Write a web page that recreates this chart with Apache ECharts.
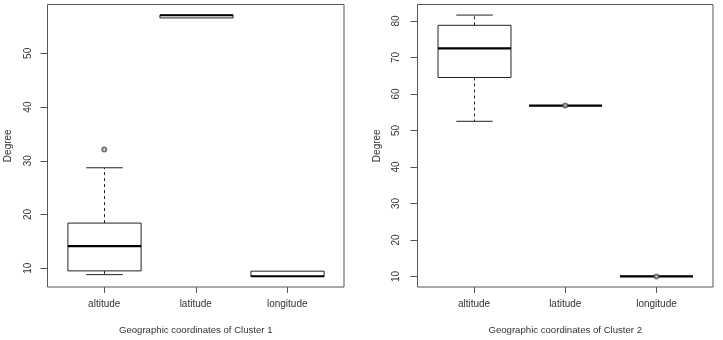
<!DOCTYPE html>
<html>
<head>
<meta charset="utf-8">
<script src="https://cdn.jsdelivr.net/npm/echarts@6/dist/echarts.min.js"></script>
<style>html,body{margin:0;padding:0;background:#fff}#c{width:723px;height:340px}</style>
</head>
<body>
<div id="c"></div>
<script>
// ---- data ----
const categories = ['altitude', 'latitude', 'longitude'];
// [min(whisker), Q1, median, Q3, max(whisker)]
const cluster1Altitude  = [8.8, 9.5, 14.1, 18.4, 28.7];
const cluster1Latitude  = [56.6, 56.6, 57.1, 57.1, 57.1];
const cluster1Longitude = [8.45, 8.45, 8.5, 9.45, 9.45];
const cluster1Outliers  = [['altitude', 32.1]];

const cluster2Altitude  = [52.5, 64.5, 72.5, 78.8, 81.6];
const cluster2Latitude  = [56.8, 56.8, 56.8, 56.8, 56.8];
const cluster2Longitude = [10.0, 10.0, 10.0, 10.0, 10.0];
const cluster2Outliers  = [['latitude', 56.8], ['longitude', 10.0]];

const yTicks1 = [10, 20, 30, 40, 50];
const yTicks2 = [10, 20, 30, 40, 50, 60, 70, 80];
const xTitle1 = 'Geographic coordinates of Cluster 1';
const xTitle2 = 'Geographic coordinates of Cluster 2';
const yTitle = 'Degree';

// ---- build ----
const catPos = categories.map((c, i) => i + 1);
function boxRows(stats) { return stats.map((s, i) => [catPos[i]].concat(s)); }
function outRows(list) { return list.map(o => [categories.indexOf(o[0]) + 1, o[1]]); }

const BOX_W = 0.8;
const LINE = '#222';
const TEXT = '#333';
const FRAME = '#555';
const FONT = 'Liberation Sans, Arial, sans-serif';

function renderItem(params, api) {
  const x = api.value(0);
  const lo = api.coord([x, api.value(1)]);
  const q1 = api.coord([x, api.value(2)]);
  const md = api.coord([x, api.value(3)]);
  const q3 = api.coord([x, api.value(4)]);
  const hi = api.coord([x, api.value(5)]);
  const w = api.size([BOX_W, 0])[0];
  const cx = Math.round(lo[0]) + 0.5;
  const l = cx - w / 2, r = cx + w / 2;
  const children = [];
  const dash = { stroke: LINE, lineWidth: 1, lineDash: [3, 3] };
  if (hi[1] < q3[1] - 0.5) {
    children.push({ type: 'line', shape: { x1: cx, y1: q3[1], x2: cx, y2: hi[1] }, style: dash });
    children.push({ type: 'line', shape: { x1: cx - w / 4, y1: hi[1], x2: cx + w / 4, y2: hi[1] }, style: { stroke: LINE, lineWidth: 1 } });
  }
  if (lo[1] > q1[1] + 0.5) {
    children.push({ type: 'line', shape: { x1: cx, y1: q1[1], x2: cx, y2: lo[1] }, style: dash });
    children.push({ type: 'line', shape: { x1: cx - w / 4, y1: lo[1], x2: cx + w / 4, y2: lo[1] }, style: { stroke: LINE, lineWidth: 1 } });
  }
  children.push({ type: 'rect', shape: { x: l, y: q3[1], width: w, height: q1[1] - q3[1] }, style: { fill: '#fff', stroke: LINE, lineWidth: 1 } });
  children.push({ type: 'line', shape: { x1: l, y1: md[1], x2: r, y2: md[1] }, style: { stroke: '#000', lineWidth: 2.2 } });
  return { type: 'group', children };
}

function xAxisFor(gi, title, nameGap) {
  return {
    type: 'value', gridIndex: gi, min: 0.38, max: 3.62,
    splitLine: { show: false },
    axisLine: { show: false },
    axisTick: { show: true, length: 6, customValues: catPos, lineStyle: { color: FRAME } },
    axisLabel: { customValues: catPos, margin: 12, fontSize: 10, color: TEXT, fontFamily: FONT,
      formatter: v => categories[Math.round(v) - 1] || '' },
    name: title, nameLocation: 'middle', nameGap: nameGap,
    nameTextStyle: { fontSize: 9.6, color: TEXT, fontFamily: FONT }
  };
}
function yAxisFor(gi, min, max, ticks, margin, nameGap) {
  return {
    type: 'value', gridIndex: gi, min: min, max: max,
    splitLine: { show: false },
    axisLine: { show: false },
    axisTick: { show: true, length: 7, customValues: ticks, lineStyle: { color: FRAME } },
    axisLabel: { customValues: ticks, rotate: 90, margin: margin, fontSize: 10, color: TEXT, fontFamily: FONT },
    name: yTitle, nameLocation: 'middle', nameGap: nameGap, nameRotate: 90,
    nameTextStyle: { fontSize: 10, color: TEXT, fontFamily: FONT }
  };
}

const option = {
  backgroundColor: '#fff',
  animation: false,
  grid: [
    { left: 47.5, top: 4.5, width: 296.5, height: 284, show: true, borderColor: FRAME, borderWidth: 1, backgroundColor: 'transparent' },
    { left: 417.5, top: 4.5, width: 295.5, height: 284, show: true, borderColor: FRAME, borderWidth: 1, backgroundColor: 'transparent' }
  ],
  xAxis: [xAxisFor(0, xTitle1, 38), xAxisFor(1, xTitle2, 38)],
  yAxis: [yAxisFor(0, 6.5, 59.1, yTicks1, 14, 34), yAxisFor(1, 7.1, 84.5, yTicks2, 16, 35)],
  series: [
    { type: 'custom', name: 'Cluster 1', xAxisIndex: 0, yAxisIndex: 0, renderItem,
      encode: { x: 0, y: [1, 2, 3, 4, 5] },
      data: boxRows([cluster1Altitude, cluster1Latitude, cluster1Longitude]) },
    { type: 'scatter', name: 'Cluster 1 outliers', xAxisIndex: 0, yAxisIndex: 0,
      symbol: 'emptyCircle', symbolSize: 4, itemStyle: { color: '#555', borderColor: '#555', borderWidth: 0.9 },
      data: outRows(cluster1Outliers), z: 5 },
    { type: 'custom', name: 'Cluster 2', xAxisIndex: 1, yAxisIndex: 1, renderItem,
      encode: { x: 0, y: [1, 2, 3, 4, 5] },
      data: boxRows([cluster2Altitude, cluster2Latitude, cluster2Longitude]) },
    { type: 'scatter', name: 'Cluster 2 outliers', xAxisIndex: 1, yAxisIndex: 1,
      symbol: 'emptyCircle', symbolSize: 4, itemStyle: { color: '#555', borderColor: '#555', borderWidth: 0.9 },
      data: outRows(cluster2Outliers), z: 5 }
  ]
};
const chart = echarts.init(document.getElementById('c'), null, { renderer: 'canvas' });
chart.setOption(option);
</script>
</body>
</html>
